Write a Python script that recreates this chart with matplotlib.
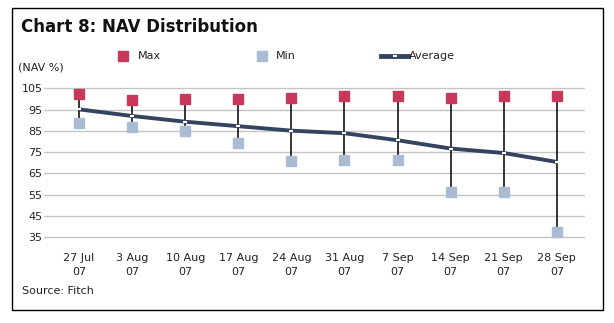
import numpy as np
import matplotlib
matplotlib.use("Agg")
import matplotlib.pyplot as plt
from matplotlib.lines import Line2D
from matplotlib.patches import Rectangle

# --- data ---
dates = ["27 Jul\n07", "3 Aug\n07", "10 Aug\n07", "17 Aug\n07", "24 Aug\n07",
         "31 Aug\n07", "7 Sep\n07", "14 Sep\n07", "21 Sep\n07", "28 Sep\n07"]
nav_max = [102.3, 99.6, 100.0, 100.0, 100.5, 101.4, 101.4, 100.6, 101.4, 101.4]
nav_min = [88.7, 86.7, 85.1, 79.5, 71.0, 71.3, 71.5, 56.5, 56.5, 37.5]
nav_avg = [95.1, 92.0, 89.3, 87.2, 85.1, 83.9, 80.6, 76.7, 74.6, 70.4]
yticks = [35, 45, 55, 65, 75, 85, 95, 105]

RED = "#C8385A"
BLUE = "#A9BCD3"
NAVY = "#34435F"
TXT = "#222222"

W, H = 614, 323
fig = plt.figure(figsize=(W / 100, H / 100), dpi=100)
fig.patch.set_facecolor("white")

def fx(px):
    return px / W

def fy(py):
    return 1 - py / H

# plot area (35 gridline at y=237px, 105 at y=88px; one unit of padding each side)
ppu = (237.3 - 88.3) / 70
top_px, bot_px = 88.3 - ppu, 237.3 + ppu
ax = fig.add_axes([fx(44), fy(bot_px), fx(585 - 44), (bot_px - top_px) / H])
x = np.arange(len(dates))

ax.set_ylim(34, 106)
ax.set_xlim(-0.66, 9.53)
ax.set_yticks(yticks)
ax.yaxis.grid(True, color="#C4C4C4", lw=1)
ax.set_axisbelow(True)
for s in ax.spines.values():
    s.set_visible(False)
ax.tick_params(length=0)
ax.tick_params(axis="y", pad=1, labelsize=8, labelcolor=TXT)
ax.tick_params(axis="x", pad=10, labelsize=8, labelcolor=TXT)
ax.set_xticks(x)
ax.set_xticklabels(dates, linespacing=1.5)

# high-low lines
ax.vlines(x, nav_min, nav_max, color="black", lw=1.1, zorder=2)
# average line
ax.plot(x, nav_avg, color=NAVY, lw=2.8, zorder=3, solid_capstyle="butt")
ax.plot(x, nav_avg, ls="none", marker="_", ms=3, mew=1.5, color="white", zorder=4)
# max / min markers
ax.plot(x, nav_max, ls="none", marker="s", ms=7, color=RED, zorder=5, clip_on=False)
ax.plot(x, nav_min, ls="none", marker="s", ms=7, color=BLUE, zorder=5, clip_on=False)

# legend drawn by hand
ly = fy(56)
fig.add_artist(Line2D([fx(123)], [ly], marker="s", ms=7, color=RED, ls="none"))
fig.text(fx(138), ly, "Max", fontsize=8, color=TXT, va="center")
fig.add_artist(Line2D([fx(262)], [ly], marker="s", ms=7, color=BLUE, ls="none"))
fig.text(fx(276), ly, "Min", fontsize=8, color=TXT, va="center")
fig.add_artist(Line2D([fx(381), fx(408)], [ly, ly], color=NAVY, lw=3.5))
fig.add_artist(Line2D([fx(395)], [ly], marker="_", ms=3, mew=1.5, color="white", ls="none"))
fig.text(fx(409), ly, "Average", fontsize=8, color=TXT, va="center")

# titles and notes
fig.text(fx(21), fy(27), "Chart 8: NAV Distribution", fontsize=12, fontweight="bold",
         color="#111111", va="center")
fig.text(fx(18), fy(68), "(NAV %)", fontsize=8, color=TXT, va="center")
fig.text(fx(22), fy(291), "Source: Fitch", fontsize=8, color=TXT, va="center")

# outer frame
fig.add_artist(Rectangle((fx(12), fy(309.5)), fx(603 - 12), (309.5 - 7.5) / H,
                         transform=fig.transFigure, fill=False, ec="black", lw=1))

fig.savefig("out.png", dpi=100)
